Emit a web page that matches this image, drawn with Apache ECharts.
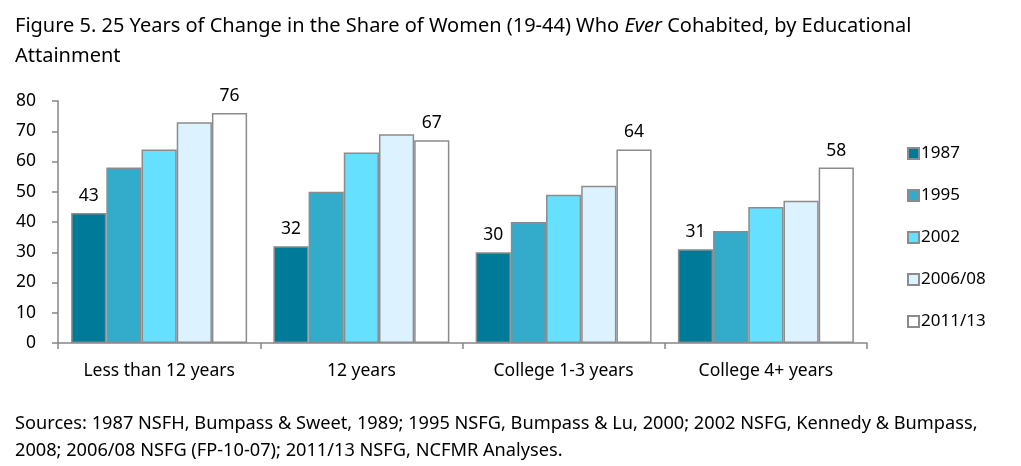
<!DOCTYPE html>
<html><head><meta charset="utf-8">
<script src="https://cdn.jsdelivr.net/npm/echarts@6/dist/echarts.min.js"></script>
<style>html,body{margin:0;padding:0;background:#fff}#c{width:1021px;height:466px}</style>
</head><body><div id="c"></div>
<script>
const categories = ['Less than 12 years', '12 years', 'College 1-3 years', 'College 4+ years'];
const seriesNames = ['1987', '1995', '2002', '2006/08', '2011/13'];
const v1987 = [43, 32, 30, 31];
const v1995 = [58, 50, 40, 37];
const v2002 = [64, 63, 49, 45];
const v2006 = [73, 69, 52, 47];
const v2011 = [76, 67, 64, 58];
const yTicks = [0, 10, 20, 30, 40, 50, 60, 70, 80];
const labelledSeries = ['1987', '2011/13'];

const colors = ['#007A99', '#33ACCC', '#66E0FF', '#DDF2FF', '#FFFFFF'];
const values = [v1987, v1995, v2002, v2006, v2011];
const FONT = 'Noto Sans';

const chart = echarts.init(document.getElementById('c'), null, {renderer: 'canvas'});
chart.setOption({
  animation: false,
  textStyle: {fontFamily: FONT},
  title: [{
    left: 10, top: 6,
    text: '{n|Figure 5. 25 Years of Change in the Share of Women (19-44) Who }{i|Ever}{n| Cohabited, by Educational}\n{n|Attainment}',
    textStyle: {
      fontWeight: 'normal',
      rich: {
        n: {fontFamily: FONT, fontSize: 20, fontWeight: 'normal', color: '#000', lineHeight: 30},
        i: {fontFamily: FONT, fontSize: 20, fontWeight: 'normal', color: '#000', fontStyle: 'italic', lineHeight: 30}
      }
    }
  }, {
    left: 10, top: 405,
    text: 'Sources: 1987 NSFH, Bumpass & Sweet, 1989; 1995 NSFG, Bumpass & Lu, 2000; 2002 NSFG, Kennedy & Bumpass,\n2008; 2006/08 NSFG (FP-10-07); 2011/13 NSFG, NCFMR Analyses.',
    textStyle: {fontFamily: FONT, fontSize: 18.2, fontWeight: 'normal', color: '#000', lineHeight: 27}
  }],
  legend: {
    orient: 'vertical', left: 902, top: 140,
    itemWidth: 11, itemHeight: 11, itemGap: 25,
    icon: 'rect',
    data: seriesNames,
    textStyle: {fontFamily: FONT, fontSize: 17, color: '#000', padding: [0, 0, 0, -3]}
  },
  grid: {left: 58, right: 154, top: 101, bottom: 123},
  xAxis: {
    type: 'category', data: categories,
    axisLine: {lineStyle: {color: '#868686', width: 1.5}},
    axisTick: {show: true, length: 6, lineStyle: {color: '#868686', width: 1.5}},
    axisLabel: {fontFamily: FONT, fontSize: 17.5, color: '#000', margin: 19}
  },
  yAxis: {
    type: 'value', min: 0, max: 80, interval: 10,
    axisLine: {show: true, lineStyle: {color: '#868686', width: 1.5}},
    axisTick: {show: true, length: 6, lineStyle: {color: '#868686', width: 1.5}},
    splitLine: {show: false},
    axisLabel: {fontFamily: FONT, fontSize: 17.5, color: '#000', margin: 22,
      formatter: v => yTicks.includes(v) ? String(v) : ''}
  },
  series: seriesNames.map((name, i) => ({
    name, type: 'bar', data: values[i],
    barGap: '0%', barCategoryGap: '13%',
    itemStyle: {color: colors[i], borderColor: '#8C8C8C', borderWidth: 1.5},
    label: {show: labelledSeries.includes(name), position: 'top', distance: 8,
      fontFamily: FONT, fontSize: 17.5, color: '#000'}
  }))
});
</script></body></html>
